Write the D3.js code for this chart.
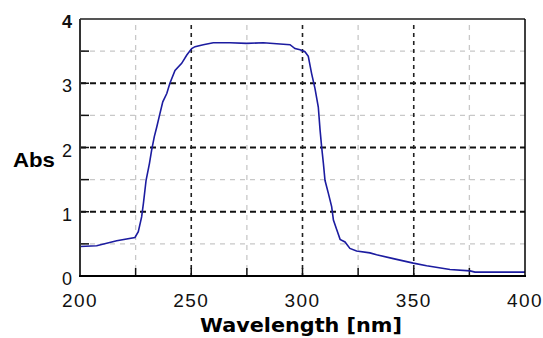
<!DOCTYPE html>
<html>
<head>
<meta charset="utf-8">
<script src="https://cdn.jsdelivr.net/npm/d3@7"></script>
<style>
  body { margin: 0; background: #fff; }
  svg { display: block; }
</style>
</head>
<body>
<div id="chart"></div>
<script>
// spectrum
const wavelength = [200, 207.5, 216.5, 224.7, 226.2, 227.7, 228.5, 229.7, 231.2, 232.2, 233.4, 234.5, 235.6, 237.2, 239, 240.4, 242.7, 245.7, 248, 250.2, 251.7, 255.4, 259.9, 267.4, 274.9, 282.4, 289.9, 294.4, 296.6, 298.9, 301.1, 302.6, 304.1, 305.6, 307.1, 307.9, 308.6, 309.4, 310.1, 311.6, 313.1, 313.9, 315.4, 316.9, 319.1, 321.3, 324.3, 330.3, 333.3, 340.8, 349.8, 355.8, 366.3, 375.3, 377.5, 400];
const absorbance = [0.46, 0.47, 0.55, 0.60, 0.69, 0.92, 1.13, 1.49, 1.75, 1.96, 2.17, 2.32, 2.48, 2.71, 2.84, 3.0, 3.2, 3.31, 3.44, 3.54, 3.57, 3.60, 3.63, 3.63, 3.62, 3.63, 3.61, 3.60, 3.54, 3.52, 3.49, 3.42, 3.15, 2.92, 2.63, 2.27, 2.01, 1.75, 1.49, 1.29, 1.08, 0.87, 0.72, 0.57, 0.53, 0.43, 0.39, 0.36, 0.33, 0.27, 0.20, 0.16, 0.10, 0.08, 0.06, 0.06];

const xTicks = [200, 250, 300, 350, 400];
const xMinor = [225, 275, 325, 375];
const yTicks = [0, 1, 2, 3, 4];
const yMinor = [0.5, 1.5, 2.5, 3.5];

const W = 543, H = 338;
const margin = { top: 19, right: 18, bottom: 62, left: 80 };

const svg = d3.select('#chart').append('svg')
  .attr('width', W)
  .attr('height', H);

const x = d3.scaleLinear().domain([200, 400]).range([margin.left, W - margin.right]);
const y = d3.scaleLinear().domain([0, 4]).range([H - margin.bottom, margin.top]);

const x0 = x.range()[0], x1 = x.range()[1];
const yb = y.range()[0], yt = y.range()[1];

// minor grid (light gray)
svg.append('g').selectAll('line').data(yMinor).enter().append('line')
  .attr('x1', x0).attr('x2', x1)
  .attr('y1', d => y(d)).attr('y2', d => y(d))
  .attr('stroke', '#c8c8c8').attr('stroke-width', 1.3)
  .attr('stroke-dasharray', '5,5');
svg.append('g').selectAll('line').data(xMinor).enter().append('line')
  .attr('x1', d => x(d)).attr('x2', d => x(d))
  .attr('y1', yt + 6).attr('y2', yb)
  .attr('stroke', '#c8c8c8').attr('stroke-width', 1.3)
  .attr('stroke-dasharray', '5,5');

// major grid (black)
svg.append('g').selectAll('line').data(yTicks.slice(1, -1)).enter().append('line')
  .attr('x1', x0).attr('x2', x1)
  .attr('y1', d => y(d)).attr('y2', d => y(d))
  .attr('stroke', '#111').attr('stroke-width', 2)
  .attr('stroke-dasharray', '6,4');
svg.append('g').selectAll('line').data(xTicks.slice(1, -1)).enter().append('line')
  .attr('x1', d => x(d)).attr('x2', d => x(d))
  .attr('y1', yt + 6).attr('y2', yb)
  .attr('stroke', '#222').attr('stroke-width', 1.6)
  .attr('stroke-dasharray', '4,4');

// inward ticks
svg.append('g').selectAll('line').data(yTicks.concat(yMinor)).enter().append('line')
  .attr('x1', x0).attr('x2', x0 + 9)
  .attr('y1', d => y(d)).attr('y2', d => y(d))
  .attr('stroke', '#111').attr('stroke-width', 1.5);
svg.append('g').selectAll('line').data(xTicks.slice(1, -1).concat(xMinor)).enter().append('line')
  .attr('x1', d => x(d)).attr('x2', d => x(d))
  .attr('y1', yb).attr('y2', yb - 8)
  .attr('stroke', '#111').attr('stroke-width', 1.5);

// spectrum line
const line = d3.line()
  .x((d, i) => x(wavelength[i]))
  .y(d => y(d));
svg.append('path')
  .datum(absorbance)
  .attr('d', line)
  .attr('fill', 'none')
  .attr('stroke', '#1c1ca0')
  .attr('stroke-width', 1.6);

// frame
svg.append('line').attr('x1', x0).attr('x2', x1).attr('y1', yt).attr('y2', yt)
  .attr('stroke', '#555').attr('stroke-width', 2);
svg.append('line').attr('x1', x0).attr('x2', x0).attr('y1', yt).attr('y2', yb)
  .attr('stroke', '#333').attr('stroke-width', 2);
svg.append('line').attr('x1', x1).attr('x2', x1).attr('y1', yt).attr('y2', yb)
  .attr('stroke', '#000').attr('stroke-width', 1.5);
svg.append('line').attr('x1', x0 - 1).attr('x2', x1 + 1).attr('y1', yb).attr('y2', yb)
  .attr('stroke', '#000').attr('stroke-width', 2);

// tick labels
svg.append('g').selectAll('text').data(xTicks).enter().append('text')
  .attr('x', d => x(d))
  .attr('y', yb + 31)
  .attr('text-anchor', 'middle')
  .attr('font-family', 'Liberation Sans, Arial, sans-serif')
  .attr('font-size', 19)
  .attr('letter-spacing', 1.5)
  .attr('fill', '#111')
  .text(d => d);

svg.append('g').selectAll('text').data(yTicks).enter().append('text')
  .attr('x', x0 - 8)
  .attr('y', d => y(d) + 9)
  .attr('text-anchor', 'end')
  .attr('font-family', 'Liberation Sans, Arial, sans-serif')
  .attr('font-size', 18)
  .attr('font-weight', d => d === 4 ? 'bold' : 'normal')
  .attr('fill', '#111')
  .text(d => d);

// axis titles
svg.append('text')
  .attr('x', 13).attr('y', 167)
  .attr('font-family', 'Liberation Sans, Arial, sans-serif')
  .attr('font-size', 21)
  .attr('font-weight', 'bold')
  .attr('textLength', 42)
  .attr('lengthAdjust', 'spacingAndGlyphs')
  .text('Abs');

svg.append('text')
  .attr('x', 200).attr('y', 332)
  .attr('font-family', 'DejaVu Sans, Verdana, sans-serif')
  .attr('font-size', 19)
  .attr('font-weight', 'bold')
  .attr('textLength', 202)
  .attr('lengthAdjust', 'spacingAndGlyphs')
  .text('Wavelength [nm]');
</script>
</body>
</html>
